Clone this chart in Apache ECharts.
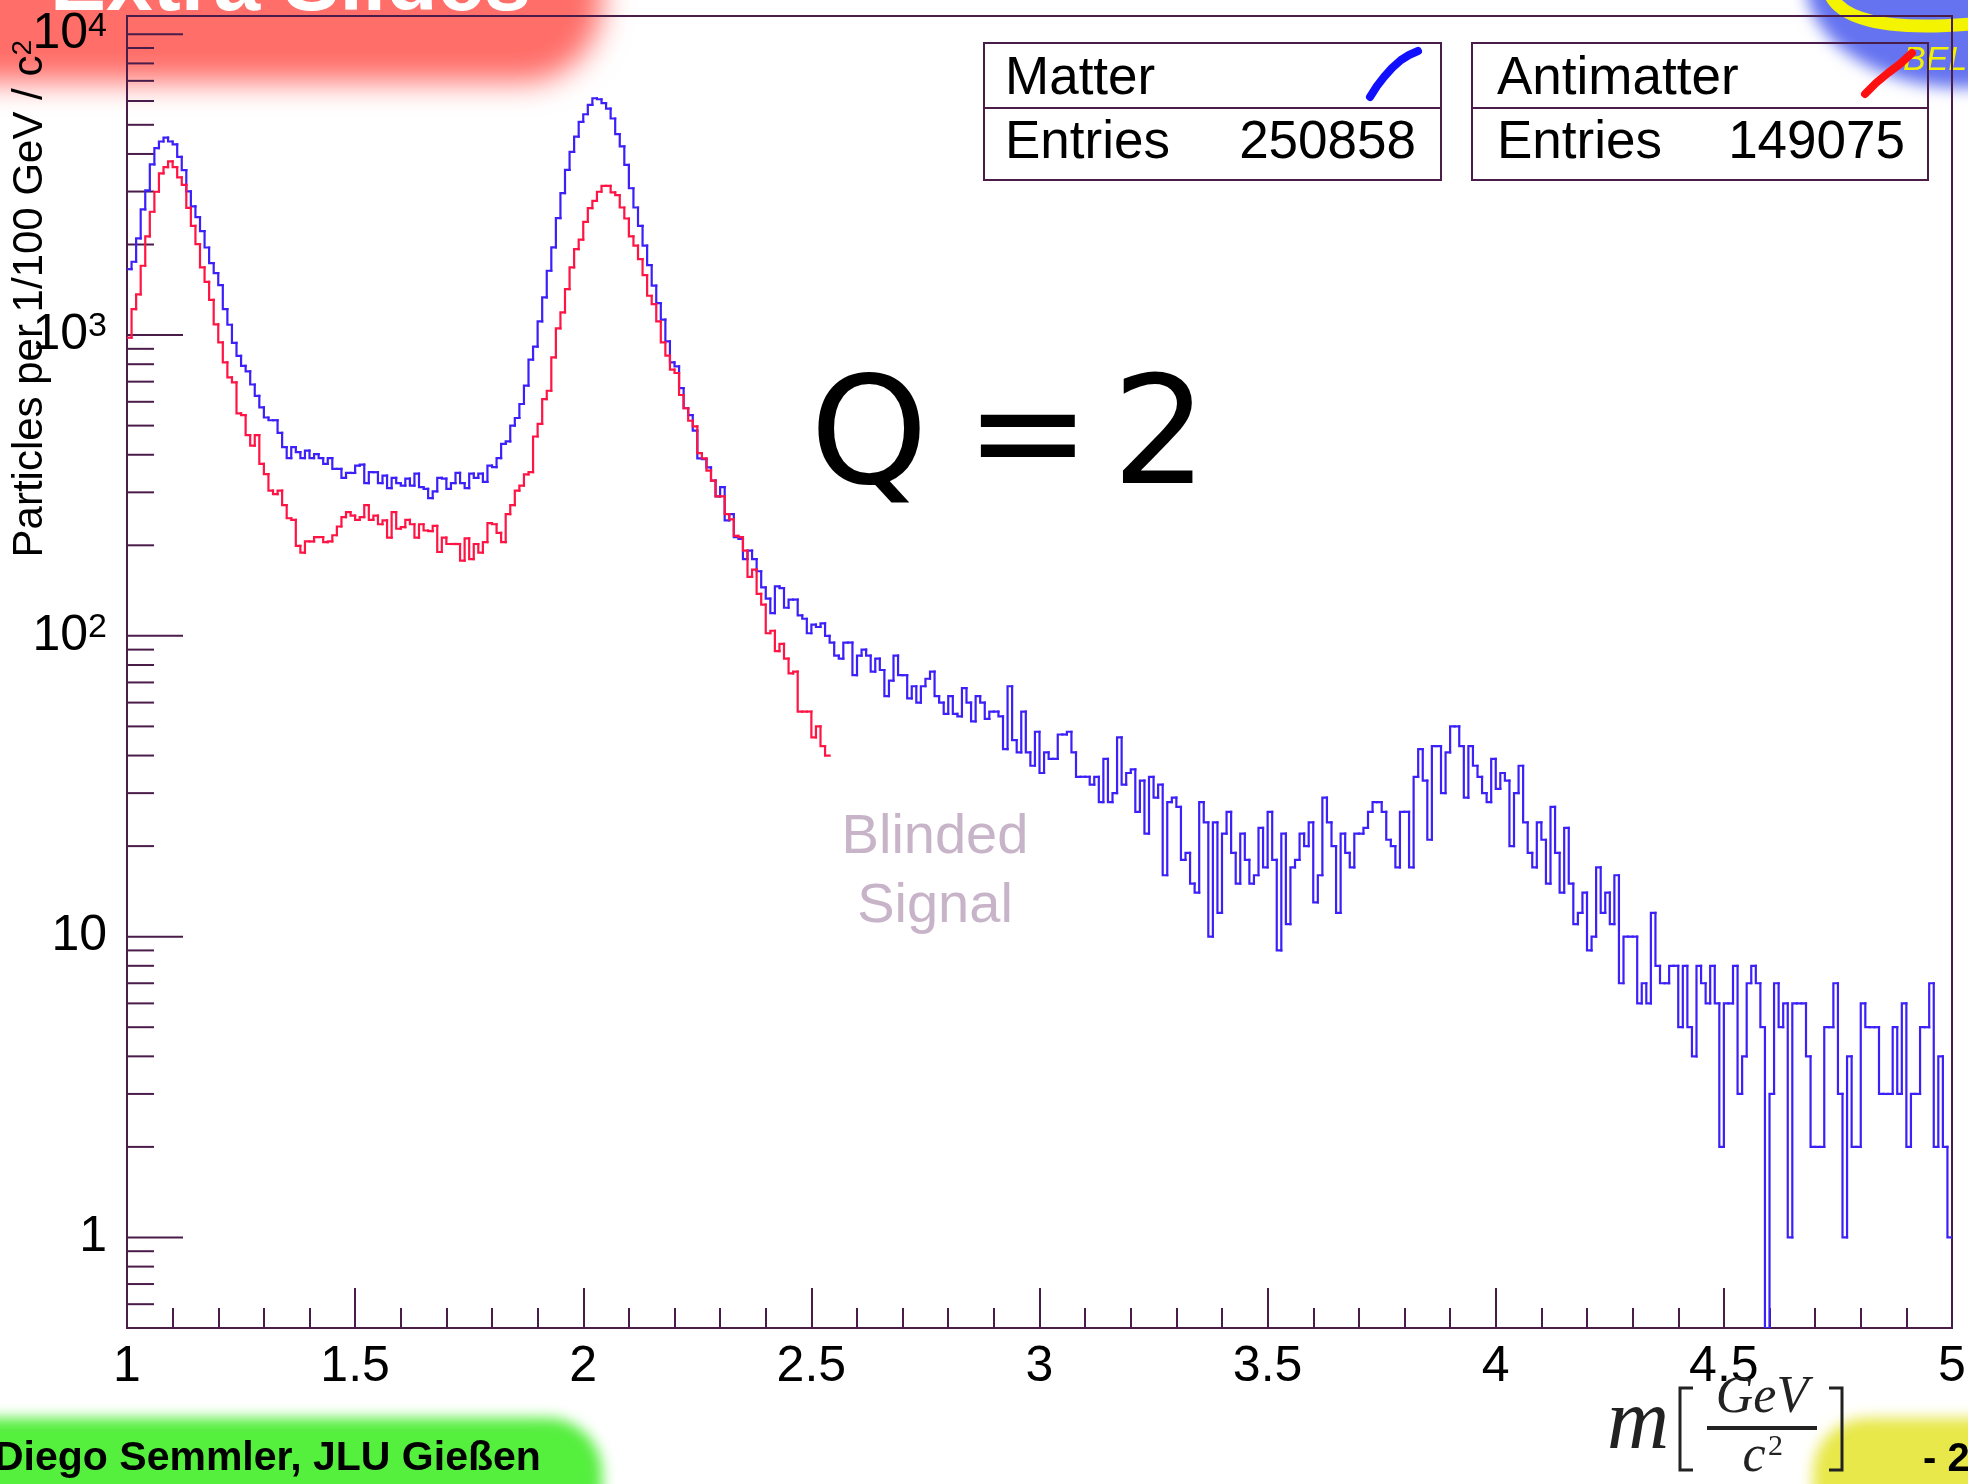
<!DOCTYPE html>
<html>
<head>
<meta charset="utf-8">
<title>Q = 2 invariant mass</title>
<script src="https://cdn.jsdelivr.net/npm/echarts@6.0.0/dist/echarts.min.js"></script>
<style>
  html, body { margin: 0; padding: 0; background: #ffffff; }
  #chart { width: 1968px; height: 1484px; }
</style>
</head>
<body>
<div id="chart"></div>
<script>
// Binning: 1/100 GeV/c^2 bins starting at 1 GeV/c^2
const massLow = 1.0;
const massHigh = 5.0;
const binWidth = 0.01;

// Matter candidates, counts per bin (1.00 ... 5.00)
const matterCounts = [
  1656,1753,2096,2617,3027,3691,4180,4400,4536,4400,
  4305,3909,3533,3006,2677,2467,2215,1955,1734,1606,
  1465,1220,1082,942,853,790,757,685,628,575,
  532,521,521,473,424,390,424,408,390,413,
  390,402,390,373,390,359,359,335,348,348,
  368,371,322,350,350,322,341,310,335,322,
  316,333,316,346,312,308,287,302,335,333,
  308,322,348,322,310,346,335,346,325,368,
  364,390,435,443,500,530,590,679,828,915,
  1111,1334,1636,1956,2448,2965,3540,4064,4571,5113,
  5420,5823,6128,6081,5902,5662,5248,4656,4238,3681,
  3076,2655,2307,1982,1709,1459,1277,1125,953,811,
  787,666,571,542,481,389,387,363,328,291,
  312,242,254,213,210,180,192,180,164,145,
  133,119,146,144,124,132,132,117,114,102,
  109,107,110,100,95,86,84,95,95,74,
  86,90,86,76,84,77,63,71,86,74,
  74,62,68,60,68,72,76,63,60,55,
  63,55,54,67,60,52,63,60,53,56,
  56,54,42,68,45,41,56,41,37,48,
  35,41,39,39,47,47,48,41,34,34,
  34,32,34,28,39,28,30,46,32,35,
  36,26,33,22,34,29,32,16,28,29,
  27,18,19,15,14,28,24,10,24,12,
  22,26,19,15,22,18,15,16,23,17,
  26,18,9,22,11,17,18,22,20,24,
  13,16,29,24,20,12,22,19,17,22,
  22,23,26,28,28,26,21,20,17,26,
  26,17,34,42,33,21,43,43,30,41,
  50,50,43,29,43,37,34,30,28,39,
  31,35,33,20,30,37,24,19,17,24,
  21,15,27,19,14,23,15,11,12,14,
  9,10,17,12,14,11,16,7,10,10,
  10,6,7,6,12,8,7,7,8,8,
  5,8,5,4,8,7,6,8,6,2,
  6,6,8,3,4,7,8,7,5,0,
  3,7,5,6,1,6,6,6,4,2,
  2,2,5,5,7,3,1,4,2,2,
  6,5,5,5,3,3,3,5,3,6,
  2,3,3,5,5,7,2,4,2,1
];

// Antimatter candidates, counts per bin (signal region blinded above 2.54)
const antimatterCounts = [
  980,1220,1365,1700,2128,2570,2995,3447,3617,3778,
  3617,3342,3158,2649,2307,2005,1679,1503,1310,1085,
  946,811,723,696,549,542,465,429,465,373,
  345,304,296,304,272,246,243,199,189,206,
  206,213,213,205,206,216,231,248,258,251,
  243,248,272,243,251,235,242,212,258,227,
  230,243,235,212,235,224,223,232,190,212,
  202,202,202,178,211,180,202,189,205,237,
  235,220,205,254,272,304,316,344,350,460,
  507,612,653,843,1053,1189,1422,1679,1932,2075,
  2379,2643,2795,2995,3133,3133,2979,2917,2655,2441,
  2128,1982,1788,1582,1351,1268,1111,946,854,767,
  748,632,571,519,497,405,389,354,328,291,
  291,254,244,215,213,192,157,166,138,127,
  102,104,89,94,84,75,76,56,56,56,
  46,50,43,40
];

const histNames = ['Matter', 'Antimatter'];
const histEntries = [250858, 149075];
const xTickStep = 0.5;
const yAxisMin = 0.5;
const yAxisMax = 11500;

const AXIS_COLOR = '#4a1c4a';
const MATTER_COLOR = '#3c20fa';
const ANTIMATTER_COLOR = '#ff1444';
const SANS = '"Liberation Sans", Arial, sans-serif';
const SERIF = '"Liberation Serif", "DejaVu Serif", serif';

// log-axis tick marks at 1..9 x 10^n
const yTickValues = [];
for (let e = -1; e <= 4; e++) {
  for (let k = 1; k <= 9; k++) {
    const v = k * Math.pow(10, e);
    if (v >= yAxisMin && v <= yAxisMax) yTickValues.push(v);
  }
}

function toBins(counts) {
  return counts.map((c, i) => [massLow + i * binWidth, massLow + (i + 1) * binWidth, c]);
}

// Step outline of a histogram; empty bins fall to the bottom of the log axis
function histogramSeries(name, counts, color, z) {
  return {
    type: 'custom',
    name: name,
    coordinateSystem: 'cartesian2d',
    silent: true,
    clip: true,
    z: z,
    encode: { x: [0, 1], y: 2 },
    data: toBins(counts),
    renderItem: function (params, api) {
      const i = params.dataIndex;
      const lo = api.value(0), hi = api.value(1);
      const cur = Math.max(api.value(2), yAxisMin);
      const pts = [];
      if (i > 0) pts.push(api.coord([lo, Math.max(counts[i - 1], yAxisMin)]));
      pts.push(api.coord([lo, cur]));
      pts.push(api.coord([hi, cur]));
      return {
        type: 'polyline',
        shape: { points: pts },
        style: { stroke: color, lineWidth: 2.2, fill: null, lineJoin: 'miter', lineCap: 'square' }
      };
    }
  };
}

// text placed by its baseline
function label(text, x, baseline, size, opts) {
  opts = opts || {};
  return {
    type: 'text',
    z: opts.z != null ? opts.z : 20,
    silent: true,
    style: {
      text: text,
      x: x,
      y: baseline - 0.36 * size,
      fontSize: size,
      fontFamily: opts.family || SANS,
      fontWeight: opts.weight || 'normal',
      fontStyle: opts.style || 'normal',
      fill: opts.color || '#000',
      align: opts.align || 'left',
      verticalAlign: 'middle',
      rich: opts.rich
    }
  };
}

// soft-edged slide shapes: only the blurred shadow of a shifted copy is visible
const OFF = 5000;
function softRect(x, y, w, h, r, color, blur) {
  return {
    type: 'rect', z: -10, silent: true,
    shape: { x: x - OFF, y: y, width: w, height: h, r: r },
    style: { fill: color, shadowColor: color, shadowBlur: blur, shadowOffsetX: OFF }
  };
}
function softEllipse(cx, cy, rx, ry, color, blur) {
  return {
    type: 'circle', z: -10, silent: true,
    originX: 0, originY: cy, scaleY: ry / rx,
    shape: { cx: cx - OFF, cy: cy, r: rx },
    style: { fill: color, shadowColor: color, shadowBlur: blur, shadowOffsetX: OFF }
  };
}

const QFONT = '"DejaVu Sans", sans-serif';

const graphics = [
  // slide decorations
  softRect(-120, -120, 722, 202, 80, '#ff6e69', 30),
  label('Extra Slides', 50, 17, 84, { color: '#ffffff', weight: 'bold', z: -9 }),
  softRect(-120, 1418, 722, 200, 55, '#55ef3e', 14),
  label('Diego Semmler, JLU Gießen', -6, 1473, 41, { weight: 'bold', z: -9 }),
  softRect(1813, 1418, 300, 200, 55, '#e8e84a', 14),
  label('- 2', 1923, 1474, 40, { weight: 'bold', z: -9 }),
  softEllipse(1965, -20, 160, 108, '#6573f0', 16),
  {
    type: 'bezierCurve', z: -9, silent: true,
    shape: { x1: 1830, y1: -6, cpx1: 1848, cpy1: 34, x2: 1970, y2: 24 },
    style: { stroke: '#f4f400', lineWidth: 13, fill: null }
  },
  label('BELLE', 1903, 73, 34, { color: '#f2f200', style: 'italic', z: -9 }),

  // statistics boxes
  { type: 'rect', z: 15, silent: true, shape: { x: 984, y: 43, width: 457, height: 137 },
    style: { fill: null, stroke: AXIS_COLOR, lineWidth: 2 } },
  { type: 'line', z: 15, silent: true, shape: { x1: 984, y1: 108, x2: 1441, y2: 108 },
    style: { stroke: AXIS_COLOR, lineWidth: 2 } },
  { type: 'rect', z: 15, silent: true, shape: { x: 1472, y: 43, width: 456, height: 137 },
    style: { fill: null, stroke: AXIS_COLOR, lineWidth: 2 } },
  { type: 'line', z: 15, silent: true, shape: { x1: 1472, y1: 108, x2: 1928, y2: 108 },
    style: { stroke: AXIS_COLOR, lineWidth: 2 } },
  label(histNames[0], 1005, 98, 53),
  label('Entries', 1005, 162, 53),
  label(String(histEntries[0]), 1416, 162, 53, { align: 'right' }),
  label(histNames[1], 1497, 98, 53),
  label('Entries', 1497, 162, 53),
  label(String(histEntries[1]), 1905, 162, 53, { align: 'right' }),
  { type: 'polyline', z: 16, silent: true,
    shape: { points: [[1370, 97], [1377, 86], [1384, 77], [1392, 68], [1401, 60], [1409, 55], [1418, 51]] },
    style: { stroke: '#1010ff', lineWidth: 8, lineCap: 'round', lineJoin: 'round', fill: null } },
  { type: 'polyline', z: 16, silent: true,
    shape: { points: [[1865, 94], [1876, 83], [1888, 73], [1900, 64], [1912, 53]] },
    style: { stroke: '#ff1010', lineWidth: 8, lineCap: 'round', lineJoin: 'round', fill: null } },

  // annotations
  label('Q', 810, 498, 150, { family: QFONT }),
  label('=', 965, 498, 150, { family: QFONT }),
  label('2', 1112, 498, 150, { family: QFONT }),
  label('Blinded', 935, 858, 56, { align: 'center', color: '#c8b4c8' }),
  label('Signal', 935, 927, 56, { align: 'center', color: '#c8b4c8' }),

  // y-axis title
  {
    type: 'text', z: 20, silent: true,
    x: 30, y: 40, rotation: Math.PI / 2,
    style: {
      text: 'Particles per 1/100 GeV / c{sup|2}',
      fontSize: 42, fontFamily: SANS, fill: '#000',
      align: 'right', verticalAlign: 'middle',
      rich: { sup: { fontSize: 28, fontFamily: SANS, fill: '#000', verticalAlign: 'top' } }
    }
  },

  // x-axis title  m [GeV / c^2]
  label('m', 1607, 1456, 86, { family: SERIF, style: 'italic', color: '#222' }),
  { type: 'polyline', z: 20, silent: true,
    shape: { points: [[1693, 1388], [1680, 1388], [1680, 1470], [1693, 1470]] },
    style: { stroke: '#222', lineWidth: 3, fill: null } },
  label('GeV', 1762, 1417, 52, { family: SERIF, style: 'italic', color: '#222', align: 'center' }),
  { type: 'line', z: 20, silent: true, shape: { x1: 1707, y1: 1428, x2: 1817, y2: 1428 },
    style: { stroke: '#222', lineWidth: 4 } },
  label('c', 1754, 1476, 52, { family: SERIF, style: 'italic', color: '#222', align: 'center' }),
  label('2', 1768, 1458, 30, { family: SERIF, color: '#222' }),
  { type: 'polyline', z: 20, silent: true,
    shape: { points: [[1829, 1388], [1842, 1388], [1842, 1470], [1829, 1470]] },
    style: { stroke: '#222', lineWidth: 3, fill: null } }
];

const chart = echarts.init(document.getElementById('chart'), null, { renderer: 'canvas', width: 1968, height: 1484 });

chart.setOption({
  backgroundColor: '#ffffff',
  animation: false,
  grid: {
    left: 127, right: 16, top: 16, bottom: 156,
    show: true, borderColor: AXIS_COLOR, borderWidth: 2, backgroundColor: 'transparent',
    outerBoundsMode: 'none', containLabel: false
  },
  xAxis: {
    type: 'value',
    min: massLow, max: massHigh, interval: xTickStep,
    axisLine: { show: true, lineStyle: { color: AXIS_COLOR, width: 2 } },
    axisTick: { show: true, inside: true, length: 40, lineStyle: { color: AXIS_COLOR, width: 2 } },
    minorTick: { show: true, splitNumber: 5, length: 20, lineStyle: { color: AXIS_COLOR, width: 2 } },
    splitLine: { show: false },
    minorSplitLine: { show: false },
    axisLabel: { fontSize: 50, fontFamily: SANS, color: '#000', margin: 14 }
  },
  yAxis: {
    type: 'log', logBase: 10,
    min: yAxisMin, max: yAxisMax,
    axisLine: { show: true, lineStyle: { color: AXIS_COLOR, width: 2 } },
    axisTick: { show: false },
    splitLine: { show: false },
    axisLabel: {
      fontSize: 50, fontFamily: SANS, color: '#000', margin: 20,
      formatter: function (v) {
        const e = Math.round(Math.log10(v));
        if (Math.abs(v / Math.pow(10, e) - 1) > 1e-6) return '';
        if (e === 0) return '1';
        if (e === 1) return '10';
        return '10{sup|' + e + '}';
      },
      rich: { sup: { fontSize: 34, fontFamily: SANS, color: '#000', verticalAlign: 'top', padding: [0, 0, 14, 0] } }
    }
  },
  series: [
    {
      type: 'custom',
      name: 'yTicks',
      coordinateSystem: 'cartesian2d',
      silent: true,
      clip: false,
      z: 3,
      encode: { x: 0, y: 1 },
      data: yTickValues.map(v => [massLow, v]),
      renderItem: function (params, api) {
        const v = api.value(1);
        const p = api.coord([massLow, v]);
        const lg = Math.log10(v);
        const major = Math.abs(lg - Math.round(lg)) < 1e-9;
        const len = major ? 56 : 27;
        return {
          type: 'line',
          shape: { x1: p[0], y1: p[1], x2: p[0] + len, y2: p[1] },
          style: { stroke: AXIS_COLOR, lineWidth: 2 }
        };
      }
    },
    histogramSeries(histNames[0], matterCounts, MATTER_COLOR, 4),
    histogramSeries(histNames[1], antimatterCounts, ANTIMATTER_COLOR, 5)
  ],
  graphic: { elements: graphics }
});
</script>
</body>
</html>
